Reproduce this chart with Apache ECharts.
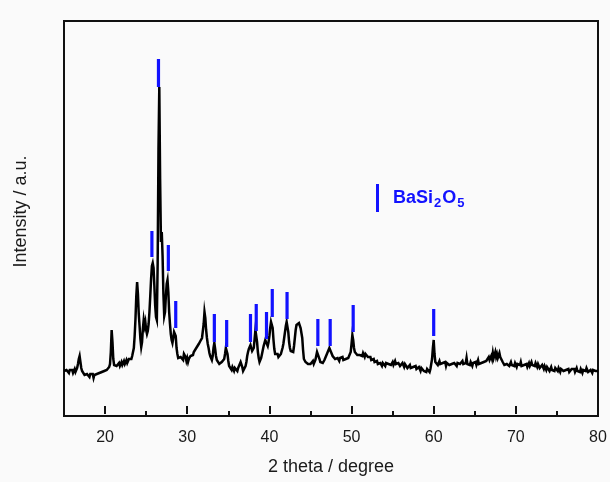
<!DOCTYPE html>
<html>
<head>
<meta charset="utf-8">
<script src="https://cdn.jsdelivr.net/npm/echarts@6/dist/echarts.min.js"></script>
<style>
html,body{margin:0;padding:0;background:#fafafa;}
#chart{width:610px;height:482px;}
</style>
</head>
<body>
<div id="chart"></div>
<script>
// XRD pattern sampled every 0.1 degree from 15.0 to 80.0 (arbitrary intensity units)
const X_START = 15;
const X_STEP = 0.1;
const intensity = [
 43,45,42,44,46,43,41,44,45,42,   // 15
 44,41,43,45,42,44,46,50,55,58,   // 16
 52,46,43,41,42,39,41,38,40,42,   // 17
 39,37,40,41,38,40,36,39,41,38,   // 18
 40,42,39,41,43,40,42,44,41,43,   // 19
 45,42,44,46,43,47,50,62,84,72,   // 20
 55,49,47,50,48,46,49,51,48,50,   // 21
 52,49,51,53,50,52,54,51,53,55,   // 22
 54,57,55,58,60,66,78,95,118,132, // 23
 120,100,88,75,67,72,85,94,88,92, // 24
 84,80,83,90,102,118,135,148,151,146, // 25
 128,108,97,94,150,265,327,235,172,182, // 26
 158,120,98,102,118,130,134,122,102,90, // 27
 80,74,71,76,82,84,78,66,60,56,   // 28
 58,54,57,55,58,54,60,62,57,53,   // 29
 56,52,55,54,58,57,60,59,62,61,   // 30
 63,66,64,68,70,69,73,72,76,78,   // 31
 90,102,96,84,76,70,66,61,58,56,  // 32
 54,58,66,71,65,58,54,52,53,50,   // 33
 51,49,52,50,53,55,60,66,67,60,   // 34
 53,48,47,46,44,47,45,43,46,44,   // 35
 45,43,46,44,48,52,53,47,43,42,   // 36
 43,48,52,58,62,65,67,69,66,63,   // 37
 62,66,75,84,82,72,62,56,52,54,   // 38
 56,60,64,68,71,74,76,74,68,72,   // 39
 78,86,92,94,86,74,65,60,59,58,   // 40
 60,57,58,57,60,62,66,70,76,82,   // 41
 88,92,90,82,72,66,63,62,61,62,   // 42
 68,76,84,89,91,90,91,89,86,84,   // 43
 76,64,55,54,52,51,53,50,52,51,   // 44
 50,52,51,53,50,52,54,58,62,64,   // 45
 60,55,52,51,50,51,52,54,56,58,   // 46
 60,62,64,66,65,62,60,58,57,56,   // 47
 55,57,54,56,55,53,56,54,55,57,   // 48
 54,56,53,55,57,54,56,55,58,62,   // 49
 70,79,74,66,62,60,61,59,60,58,   // 50
 59,57,60,58,61,59,57,60,58,59,   // 51
 57,58,55,57,54,56,53,55,52,54,   // 52
 51,53,50,52,49,51,50,48,51,49,   // 53
 50,48,51,49,52,50,48,51,49,50,   // 54
 52,49,51,53,50,52,49,51,50,48,   // 55
 50,48,51,49,47,50,48,49,46,48,   // 56
 47,49,46,48,45,47,49,46,48,45,   // 57
 46,44,47,45,43,46,44,45,43,45,   // 58
 44,42,45,43,44,42,45,47,55,66,   // 59
 74,60,52,50,52,49,51,53,50,52,   // 60
 49,51,53,50,52,48,51,50,52,49,   // 61
 51,48,50,52,49,51,53,50,48,51,   // 62
 49,52,50,48,51,53,50,52,49,51,   // 63
 56,50,48,51,49,52,50,48,51,49,   // 64
 50,52,49,51,54,50,52,49,51,53,   // 65
 50,52,54,51,53,55,52,57,54,56,   // 66
 58,55,61,56,59,62,57,60,56,58,   // 67
 61,57,59,55,52,50,49,51,48,50,   // 68
 49,51,48,50,52,49,47,50,48,51,   // 69
 49,47,50,48,51,49,52,48,50,47,   // 70
 49,51,48,50,47,49,51,48,50,52,   // 71
 49,47,50,48,51,49,47,50,48,46,   // 72
 48,46,49,47,45,48,46,44,47,45,   // 73
 46,43,45,47,44,42,45,43,46,44,   // 74
 45,43,46,44,42,45,47,44,43,45,   // 75
 42,44,46,43,45,42,44,43,45,46,   // 76
 43,45,42,44,46,43,41,44,42,45,   // 77
 43,41,44,42,45,43,46,44,42,44,   // 78
 42,44,43,41,44,42,45,43,41,44,   // 79
 43                               // 80
];

// Reference BaSi2O5 reflection markers (position, lower end, upper end)
const refName = 'BaSi2O5';
const refPos    = [25.7, 26.5, 27.7, 28.6, 33.3, 34.8, 37.7, 38.4, 39.65, 40.35, 42.15, 45.9, 47.4, 50.2, 60.0];
const refBottom = [157, 327, 143, 86, 72, 67, 72, 83, 75, 97, 95, 68, 68, 82, 78];
const refTop    = [183, 355, 169, 113, 100, 94, 100, 110, 102, 125, 122, 95, 95, 109, 105];

const xMajorTicks = [20, 30, 40, 50, 60, 70, 80];
const xMinorTicks = [25, 35, 45, 55, 65, 75];

const FONT = "'Liberation Sans', Arial, sans-serif";
const BLUE = '#1212ff';

const lineData = intensity.map((v, i) => [+(X_START + i * X_STEP).toFixed(1), v]);
const refData = refPos.map((x, i) => [x, refBottom[i], refTop[i]]);

const chart = echarts.init(document.getElementById('chart'), null, {renderer: 'canvas'});
chart.setOption({
  backgroundColor: '#fafafa',
  animation: false,
  grid: {
    left: 64, right: 12, top: 21, bottom: 66,
    show: true, borderColor: '#111', borderWidth: 2,
    backgroundColor: 'transparent',
    outerBoundsMode: 'none'
  },
  legend: {
    data: [{name: refName, icon: 'rect'}],
    left: 376, top: 184, padding: 0,
    itemWidth: 3, itemHeight: 28,
    formatter: () => '{b|BaSi}{s|2}{b|O}{s|5}',
    textStyle: {
      rich: {
        b: {fontFamily: FONT, fontSize: 18, fontWeight: 'bold', color: BLUE},
        s: {fontFamily: FONT, fontSize: 13, fontWeight: 'bold', color: BLUE, padding: [11, 1, 0, 1]}
      },
      padding: [0, 0, 0, 9]
    }
  },
  xAxis: [
    {
      type: 'value', min: 15, max: 80, position: 'bottom',
      axisLine: {show: false},
      axisTick: {show: true, inside: true, length: 8, customValues: xMajorTicks, lineStyle: {color: '#111', width: 2}},
      axisLabel: {show: true, customValues: xMajorTicks, fontFamily: FONT, fontSize: 16, color: '#1a1a1a', margin: 14},
      splitLine: {show: false},
      name: '2 theta / degree', nameLocation: 'middle', nameGap: 42,
      nameTextStyle: {fontFamily: FONT, fontSize: 18, color: '#1a1a1a'}
    },
    {
      type: 'value', min: 15, max: 80, position: 'bottom',
      axisLine: {show: false},
      axisTick: {show: true, inside: true, length: 5, customValues: xMinorTicks, lineStyle: {color: '#111', width: 2}},
      axisLabel: {show: false},
      splitLine: {show: false}
    }
  ],
  yAxis: {
    type: 'value', min: -2, max: 393,
    axisLine: {show: false},
    axisTick: {show: false},
    axisLabel: {show: false},
    splitLine: {show: false},
    name: 'Intensity / a.u.', nameLocation: 'middle', nameGap: 34,
    nameTextStyle: {fontFamily: FONT, fontSize: 18, color: '#1a1a1a', padding: [0, 0, 0, 14]}
  },
  series: [
    {
      type: 'line', name: 'pattern', xAxisIndex: 0,
      data: lineData, showSymbol: false, symbol: 'none',
      lineStyle: {color: '#000', width: 2.5, join: 'miter'}, itemStyle: {color: '#000'},
      z: 2
    },
    {
      type: 'custom', name: refName, xAxisIndex: 0,
      data: refData,
      encode: {x: 0, y: [1, 2]},
      itemStyle: {color: BLUE},
      renderItem: (params, api) => {
        const p0 = api.coord([api.value(0), api.value(1)]);
        const p1 = api.coord([api.value(0), api.value(2)]);
        return {
          type: 'line',
          shape: {x1: p0[0], y1: p0[1], x2: p1[0], y2: p1[1]},
          style: {stroke: BLUE, lineWidth: 3.2}
        };
      },
      z: 3
    }
  ]
});
</script>
</body>
</html>
